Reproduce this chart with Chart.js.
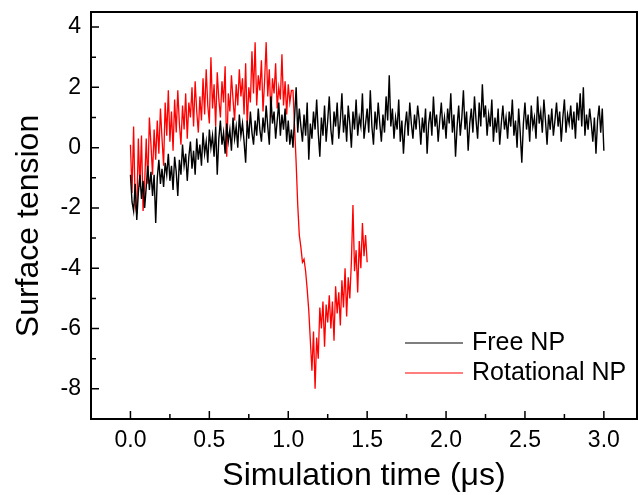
<!DOCTYPE html>
<html>
<head>
<meta charset="utf-8">
<script src="https://cdn.jsdelivr.net/npm/chart.js@4.4.1/dist/chart.umd.min.js"></script>
<style>
  html, body { margin: 0; padding: 0; background: #fff; }
  canvas { display: block; }
</style>
</head>
<body>
<canvas id="chart" width="638" height="495"></canvas>
<script>
// sampling interval of both traces (µs)
const timeStep = 0.01;

// Free NP, t = 0 ... 3.0
const freeNP = [
  -0.9, -1.8, -2.1, -1.2, -2.4, -1.5, -0.9, -1.7, -1.1, -2.0,
  -1.3, -0.6, -1.4, -0.8, -1.6, -0.9, -2.5, -1.0, -0.4, -1.2,
  -0.7, -1.3, -0.5, -0.9, -0.2, -1.1, -0.6, -1.4, -0.3, -0.8,
  -1.6, -0.4, -0.9, 0.1, -0.6, -0.2, -1.1, -0.3, 0.2, -0.7,
  -0.1, -0.9, 0.3, -0.4, 0.1, -0.6, 0.5, -0.2, 0.2, -0.5,
  0.6, 0.0, 0.4, -0.3, 0.7, -0.9, 0.3, 0.9, 0.1, 0.5,
  -0.2, 0.8, 0.2, 0.6, -0.1, 1.0, 0.3, 0.7, 0.0, 1.1,
  0.4, 0.8, 0.2, -0.5, 0.9, 0.3, 1.2, 0.5, 0.1, 0.9,
  0.4, 1.3, 0.6, 0.2, 1.0, 0.5, 1.4, 0.7, 0.1, 1.7,
  0.8, 1.2, 0.3, 0.9, 1.5, 0.4, 1.1, 0.6, 1.3, 0.2,
  0.9, 0.1, 0.6, 0.0, 1.0, 2.0, 0.5, 1.3, 0.7, 0.2,
  1.1, 0.4, 1.5, -0.4, 0.8, 0.3, 1.2, 0.6, 1.6, 0.5,
  -0.3, 1.0, 0.4, 1.4, 0.2, 0.9, 1.7, 0.6, 0.1, 1.2,
  0.7, 1.5, 0.3, 0.9, 1.8, 0.5, 1.1, 0.2, 1.4, 0.8,
  0.0, 1.2, 0.6, 1.6, 0.4, 1.0, 0.7, 1.8, 0.3, 0.8,
  1.3, 0.5, 1.9, 0.7, 0.1, 1.2, 0.6, 1.5, 0.8, 0.2,
  1.1, 0.5, 1.7, 0.9, 2.4, 0.7, 1.3, 0.3, 1.0, 0.6,
  1.6, 0.2, 0.9, -0.2, 0.7, 1.2, 0.4, 1.5, 0.8, 0.3,
  1.1, 0.6, 1.4, 0.9, 0.1, 1.0, 0.5, 1.3, -0.2, 0.8,
  1.2, 0.4, 1.7, 0.7, 1.1, 0.2, 0.9, 1.5, 0.6, 1.0,
  0.3, 1.3, 0.8, 1.8, 0.5, 1.1, -0.3, 0.7, 1.4, 0.4,
  1.0, 1.9, 0.6, 1.2, -0.1, 0.8, 1.3, 0.5, 1.7, 0.9,
  0.3, 1.5, 0.7, 2.1, 1.0, 1.4, 0.4, 1.1, 0.7, 1.6,
  0.2, 1.0, 0.5, 1.3, 0.1, 0.8, 1.4, 0.6, 1.0, 0.3,
  1.2, 0.7, 1.6, 0.4, 0.9, 0.0, 1.3, 0.5, -0.5, 0.8,
  1.5, 0.6, 1.1, 0.2, 1.4, 0.7, 1.0, 0.3, 1.7, 0.8,
  1.2, 0.5, 1.6, 0.9, 0.1, 1.1, 0.6, 1.3, 0.4, 0.9,
  1.5, 0.7, 1.2, 0.2, 1.0, 1.6, 0.5, 1.1, 0.8, 1.4,
  0.6, 1.2, 0.3, 1.5, 0.9, 1.8, 0.7, 2.0, 0.4, 1.1,
  0.6, 1.3, 0.8, 0.2, 1.0, -0.2, 0.9, 1.4, 0.5, 1.3,
  -0.1
];

// Rotational NP, t = 0 ... 1.5
const rotationalNP = [
  0.1, -1.5, 0.7, -1.9, -2.2, 0.3, -1.3, 0.4, -2.1, -1.2,
  0.3, -1.2, 1.0, 0.1, -0.9, 0.6, -0.4, 0.9, -0.2, 1.3,
  0.3, -0.6, 1.5, 0.4, 1.9, 0.2, 1.2, -0.1, 1.6, 0.5,
  1.9, 0.8, 0.1, 1.4, 0.6, 1.8, 0.3, 1.5, 1.0, 2.0,
  0.7, 2.2, 1.2, 0.5, 1.7, 0.9, 2.3, 1.1, 2.6, 1.4,
  0.8, 3.0, 1.3, 2.1, 0.7, 2.5, 1.6, 1.0, 2.2, 1.5,
  2.7, -0.3, 1.8, 1.2, 2.4, 1.6, 0.9, 2.1, 1.4, 2.6,
  1.7, 2.3, 1.1, 2.8, 0.7, 2.0, 1.5, 3.2, 1.8, 3.5,
  1.4, 2.4, 1.9, 2.9, 1.2, 2.2, 3.5, 1.7, 2.6, 1.0,
  2.3, 1.8, 2.8, 1.3, 2.0, 1.6, 3.1, 1.4, 2.2, 1.1,
  2.1, 1.5, 1.9, 1.9, 0.7, -0.5, -1.9, -2.9, -3.3, -3.8,
  -3.7, -4.1, -4.7, -5.4, -6.4, -7.4, -6.1, -8.0, -6.3, -7.0,
  -5.3, -6.0, -5.1, -6.6, -5.2, -5.8, -4.9, -6.0, -5.1, -6.4,
  -4.6, -5.5, -4.8, -5.9, -4.4, -5.3, -4.0, -5.6, -4.3, -5.0,
  -3.8, -1.9, -4.1, -3.4, -4.8, -3.1, -4.0, -2.5, -3.6, -2.9,
  -3.8
];

const seriesNames = ['Free NP', 'Rotational NP'];
const seriesColors = ['#000000', '#ff0000'];

const xTicks = [0, 0.5, 1.0, 1.5, 2.0, 2.5, 3.0];
const yTicks = [-8, -6, -4, -2, 0, 2, 4];

const fontFamily = '"Liberation Sans", Arial, sans-serif';

const toPoints = (values) => values.map((v, i) => ({ x: i * timeStep, y: v }));

// frame, inward ticks (major + minor), y title and legend
const framePlugin = {
  id: 'frame',
  afterDraw(chart) {
    const { ctx, chartArea: area, scales: { x, y } } = chart;
    ctx.save();
    ctx.strokeStyle = '#000';
    ctx.lineWidth = 2;
    ctx.strokeRect(area.left, area.top, area.right - area.left, area.bottom - area.top);

    ctx.lineWidth = 1.5;
    ctx.beginPath();
    xTicks.forEach((v, i) => {
      const px = x.getPixelForValue(v);
      ctx.moveTo(px, area.bottom);
      ctx.lineTo(px, area.bottom - 8);
      if (i < xTicks.length - 1) {
        const mx = x.getPixelForValue((v + xTicks[i + 1]) / 2);
        ctx.moveTo(mx, area.bottom);
        ctx.lineTo(mx, area.bottom - 5);
      }
    });
    yTicks.forEach((v, i) => {
      const py = y.getPixelForValue(v);
      ctx.moveTo(area.left, py);
      ctx.lineTo(area.left + 8, py);
      if (i < yTicks.length - 1) {
        const my = y.getPixelForValue((v + yTicks[i + 1]) / 2);
        ctx.moveTo(area.left, my);
        ctx.lineTo(area.left + 5, my);
      }
    });
    ctx.stroke();

    // y axis title
    ctx.fillStyle = '#000';
    ctx.font = '32px ' + fontFamily;
    ctx.textAlign = 'center';
    ctx.textBaseline = 'middle';
    ctx.translate(29, 226);
    ctx.rotate(-Math.PI / 2);
    ctx.fillText('Surface tension', 0, 0);
    ctx.setTransform(1, 0, 0, 1, 0, 0);

    // legend inside the plot
    ctx.font = '25px ' + fontFamily;
    ctx.textAlign = 'left';
    chart.data.datasets.forEach((ds, i) => {
      const ly = 343 + i * 30;
      ctx.strokeStyle = ds.borderColor;
      ctx.lineWidth = 1.2;
      ctx.beginPath();
      ctx.moveTo(405, ly);
      ctx.lineTo(463, ly);
      ctx.stroke();
      ctx.fillText(ds.label, 472, ly);
    });
    ctx.restore();
  }
};

new Chart(document.getElementById('chart'), {
  type: 'line',
  data: {
    datasets: [
      { label: seriesNames[0], data: toPoints(freeNP), borderColor: seriesColors[0], borderWidth: 1.4, pointRadius: 0, tension: 0 },
      { label: seriesNames[1], data: toPoints(rotationalNP), borderColor: seriesColors[1], borderWidth: 1.3, pointRadius: 0, tension: 0 }
    ]
  },
  options: {
    responsive: false,
    animation: false,
    devicePixelRatio: 1,
    layout: { padding: { top: 12, right: 1, left: 0, bottom: 0 } },
    plugins: { legend: { display: false }, tooltip: { enabled: false } },
    scales: {
      x: {
        type: 'linear',
        min: -0.25,
        max: 3.21,
        afterBuildTicks: (scale) => { scale.ticks = xTicks.map(v => ({ value: v })); },
        afterFit: (scale) => {
          scale.height = 76;
          scale.paddingLeft = 0;
          scale.paddingRight = 0;
        },
        grid: { display: false, drawTicks: false },
        border: { display: false },
        ticks: {
          padding: 8,
          color: '#000',
          font: { family: fontFamily, size: 23 },
          callback: (v) => Number(v).toFixed(1)
        },
        title: {
          display: true,
          text: 'Simulation time (μs)',
          color: '#000',
          font: { family: fontFamily, size: 32 },
          padding: { top: 0, bottom: 0 }
        }
      },
      y: {
        type: 'linear',
        min: -9,
        max: 4.5,
        afterBuildTicks: (scale) => { scale.ticks = yTicks.map(v => ({ value: v })); },
        afterFit: (scale) => {
          scale.width = 91;
          scale.paddingTop = 0;
          scale.paddingBottom = 0;
        },
        grid: { display: false, drawTicks: false },
        border: { display: false },
        ticks: {
          padding: 10,
          color: '#000',
          font: { family: fontFamily, size: 23 },
          callback: (v) => String(v)
        }
      }
    }
  },
  plugins: [framePlugin]
});
</script>
</body>
</html>
